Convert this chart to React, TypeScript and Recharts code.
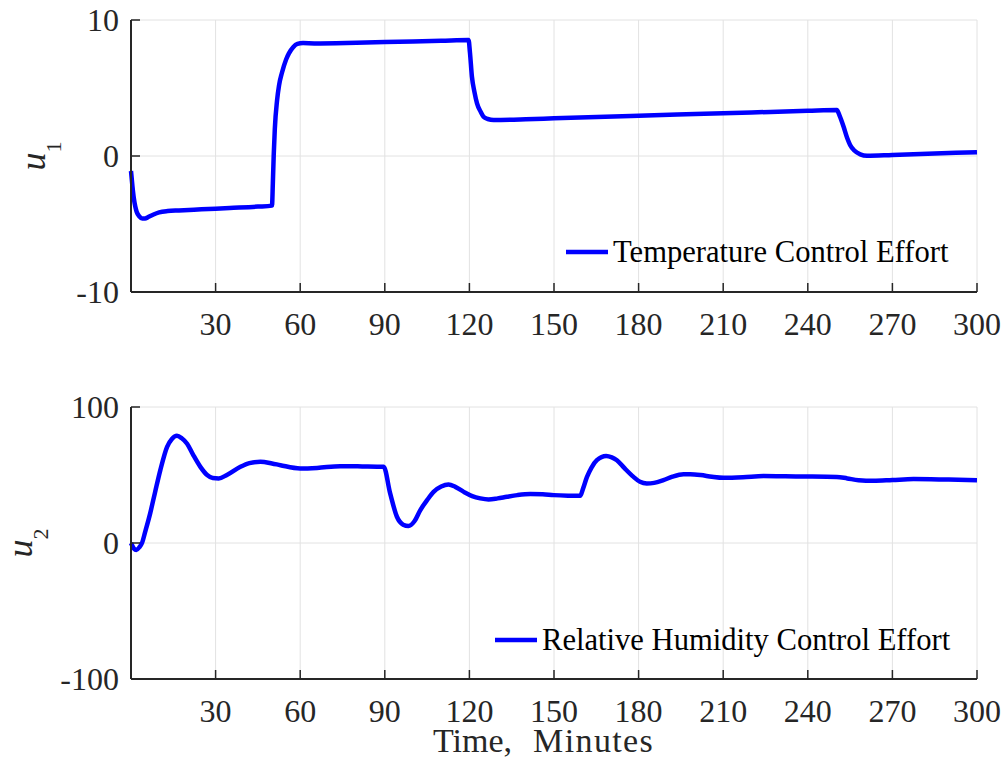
import React from 'react';
import { LineChart, Line, XAxis, YAxis, CartesianGrid, Legend } from 'recharts';

const FONT = '"Liberation Serif", "Times New Roman", serif';
const INK = '#262626';
const BLUE = '#0000ff';

const timeTicks = [30, 60, 90, 120, 150, 180, 210, 240, 270, 300];
const u1Ticks = [-10, 0, 10];
const u2Ticks = [-100, 0, 100];

const u1Time = [0, 0.5, 1, 1.5, 2, 3, 4, 5, 6, 8, 10, 13, 17, 25, 35, 45, 50, 50.3, 50.6, 51, 51.8, 52.5, 53.5, 55, 56, 57.5, 59, 61, 65, 80, 95, 110, 119.7, 120.2, 120.9, 121.8, 122.7, 124, 125, 126.5, 128.6, 140, 150, 180, 200, 220, 240, 250.3, 251.3, 252.7, 254, 255, 256.5, 258.6, 261, 270, 285, 300];
const u1Values = [-1.1, -2.2, -3.1, -3.7, -4.1, -4.45, -4.6, -4.6, -4.5, -4.3, -4.15, -4.05, -4.0, -3.92, -3.82, -3.72, -3.65, -2.0, 0, 2.0, 4.1, 5.2, 6.1, 7.1, 7.55, 8.0, 8.24, 8.3, 8.28, 8.33, 8.4, 8.47, 8.53, 7.6, 5.83, 4.7, 3.87, 3.25, 2.89, 2.72, 2.65, 2.7, 2.77, 2.96, 3.08, 3.2, 3.32, 3.38, 2.95, 2.15, 1.3, 0.81, 0.4, 0.12, 0.02, 0.08, 0.18, 0.28];

const u2Time = [0, 1, 1.9, 3, 3.9, 5, 6.8, 8.5, 10.4, 12.8, 14.5, 16.3, 18, 19.9, 22, 24.6, 27, 29, 31.1, 34, 38.8, 42, 45.9, 50, 53, 60, 66, 74.2, 82, 89.6, 91.9, 94.3, 96.5, 98.4, 100.5, 102.6, 105, 107.3, 110, 112.6, 115, 118, 121, 123.9, 126.8, 130, 133.3, 137, 141.6, 146, 149.9, 155, 159.3, 160.3, 161.7, 163.3, 165.2, 168.5, 170.5, 172.3, 175, 178.2, 180.5, 182.9, 185.5, 188.8, 192, 195.9, 198.3, 202, 206, 210.1, 217, 224.3, 232, 239.6, 250.3, 254, 258, 263.3, 270, 277.5, 290, 300];
const u2Values = [0, -4, -5.1, -3, 0, 8, 21.8, 37, 53.6, 70.7, 76.5, 78.8, 77, 73, 65, 56, 50, 47.8, 47.5, 50, 56, 58.7, 59.7, 58.5, 57.2, 54.8, 55.2, 56.5, 56.3, 56, 36.5, 19.3, 13.5, 12.5, 16, 24.2, 31.5, 37.6, 41.5, 43, 41.3, 37.6, 34.5, 32.8, 32, 32.8, 34, 35.2, 36, 35.8, 35.2, 34.8, 34.7, 40, 48.6, 55.5, 60.9, 64, 63, 60.9, 55, 48.6, 45, 43.8, 44.2, 46.2, 48.8, 50.6, 50.6, 50, 48.7, 47.9, 48.3, 49.2, 49.0, 48.9, 48.6, 47.5, 46.2, 45.7, 46.3, 47, 46.6, 46.2];

const u1Data = u1Time.map((t, i) => ({ t, v: u1Values[i] }));
const u2Data = u2Time.map((t, i) => ({ t, v: u2Values[i] }));

const TICK_LEN = 9;

const BottomTick = (props: any) => {
  const { x, y, payload } = props;
  return (
    <g>
      <line x1={x} x2={x} y1={y} y2={y - TICK_LEN} stroke={INK} strokeWidth={1.5} />
      <text x={x} y={y + 43} textAnchor="middle" fill={INK} fontSize={32} fontFamily={FONT}>
        {payload.value}
      </text>
    </g>
  );
};

const TopTick = (props: any) => {
  const { x, y } = props;
  return <line x1={x} x2={x} y1={y} y2={y + TICK_LEN} stroke={INK} strokeWidth={1.5} />;
};

const LeftTick = (props: any) => {
  const { x, y, payload } = props;
  return (
    <g>
      <line x1={x} x2={x + TICK_LEN} y1={y} y2={y} stroke={INK} strokeWidth={1.5} />
      <text x={x - 12} y={y + 11} textAnchor="end" fill={INK} fontSize={32} fontFamily={FONT}>
        {payload.value}
      </text>
    </g>
  );
};

const RightTick = (props: any) => {
  const { x, y } = props;
  return <line x1={x} x2={x - TICK_LEN} y1={y} y2={y} stroke={INK} strokeWidth={1.5} />;
};

const makeYLabel = (sub: string, baseX: number) => (props: any) => {
  const vb = props.viewBox || {};
  const cy = (vb.y || 0) + (vb.height || 0) / 2;
  return (
    <text
      x={baseX}
      y={cy}
      transform={`rotate(-90, ${baseX}, ${cy})`}
      textAnchor="middle"
      fill={INK}
      fontFamily={FONT}
    >
      <tspan fontSize={36} fontStyle="italic">u</tspan>
      <tspan fontSize={22} dy={16}>{sub}</tspan>
    </text>
  );
};

const XLabel = (props: any) => {
  const vb = props.viewBox || {};
  const cx = (vb.x || 0) + (vb.width || 0) / 2;
  const y = (vb.y || 0) + 73;
  return (
    <text y={y} fill={INK} fontSize={34} fontFamily={FONT} textAnchor="start">
      <tspan x={cx - 121}>{'Time,'}</tspan>
      <tspan x={cx - 21} letterSpacing={1.4}>{'Minutes'}</tspan>
    </text>
  );
};

const makeLegend = (name: string) => () => (
  <div style={{ display: 'flex', alignItems: 'center', whiteSpace: 'nowrap', lineHeight: '34px' }}>
    <svg width={42} height={8} style={{ display: 'block' }}>
      <line x1={0} x2={42} y1={4} y2={4} stroke={BLUE} strokeWidth={4.5} />
    </svg>
    <span style={{ marginLeft: 5, fontSize: 30.6, fontFamily: FONT, color: '#000' }}>{name}</span>
  </div>
);

type PanelProps = {
  data: { t: number; v: number }[];
  yTicks: number[];
  name: string;
  sub: string;
  labelX: number;
  legendLeft: number;
  legendTop: number;
  marginTop: number;
  height: number;
  showXLabel: boolean;
};

const Panel = (p: PanelProps) => (
  <LineChart
    width={1007}
    height={p.height}
    data={p.data}
    margin={{ top: p.marginTop, right: 30, bottom: 0, left: 0 }}
  >
    <CartesianGrid stroke="#e2e2e2" strokeWidth={1} />
    <XAxis
      dataKey="t"
      type="number"
      domain={[0, 300]}
      ticks={timeTicks}
      interval={0}
      height={94}
      tickSize={0}
      tickMargin={0}
      tickLine={false}
      axisLine={{ stroke: INK, strokeWidth: 2 }}
      tick={<BottomTick />}
      label={p.showXLabel ? { content: XLabel } : undefined}
    />
    <XAxis
      xAxisId="top"
      orientation="top"
      dataKey="t"
      type="number"
      domain={[0, 300]}
      ticks={timeTicks}
      interval={0}
      height={0}
      tickSize={0}
      tickMargin={0}
      tickLine={false}
      axisLine={{ stroke: INK, strokeWidth: 2 }}
      tick={<TopTick />}
    />
    <YAxis
      type="number"
      domain={[p.yTicks[0], p.yTicks[2]]}
      ticks={p.yTicks}
      interval={0}
      width={131}
      tickSize={0}
      tickMargin={0}
      tickLine={false}
      axisLine={{ stroke: INK, strokeWidth: 2 }}
      tick={<LeftTick />}
      label={{ content: makeYLabel(p.sub, p.labelX) }}
    />
    <YAxis
      yAxisId="right"
      orientation="right"
      type="number"
      domain={[p.yTicks[0], p.yTicks[2]]}
      ticks={p.yTicks}
      interval={0}
      width={0}
      tickSize={0}
      tickMargin={0}
      tickLine={false}
      axisLine={{ stroke: INK, strokeWidth: 2 }}
      tick={<RightTick />}
    />
    <Legend
      verticalAlign="middle"
      layout="horizontal"
      align="center"
      wrapperStyle={{ left: p.legendLeft, top: p.legendTop, width: 'auto' }}
      content={makeLegend(p.name)}
    />
    <Line
      type="monotone"
      dataKey="v"
      name={p.name}
      stroke={BLUE}
      strokeWidth={4.5}
      dot={false}
      activeDot={false}
      isAnimationActive={false}
    />
  </LineChart>
);

export default function App() {
  return (
    <div style={{ position: 'absolute', left: 0, top: 0, width: 1007, height: 773, background: '#fff' }}>
      <div style={{ position: 'absolute', left: 0, top: 0 }}>
        <Panel
          data={u1Data}
          yTicks={u1Ticks}
          name="Temperature Control Effort"
          sub="1"
          labelX={45}
          legendLeft={566}
          legendTop={235}
          marginTop={20}
          height={386}
          showXLabel={false}
        />
      </div>
      <div style={{ position: 'absolute', left: 0, top: 386 }}>
        <Panel
          data={u2Data}
          yTicks={u2Ticks}
          name="Relative Humidity Control Effort"
          sub="2"
          labelX={32}
          legendLeft={495}
          legendTop={237}
          marginTop={21}
          height={387}
          showXLabel={true}
        />
      </div>
    </div>
  );
}
